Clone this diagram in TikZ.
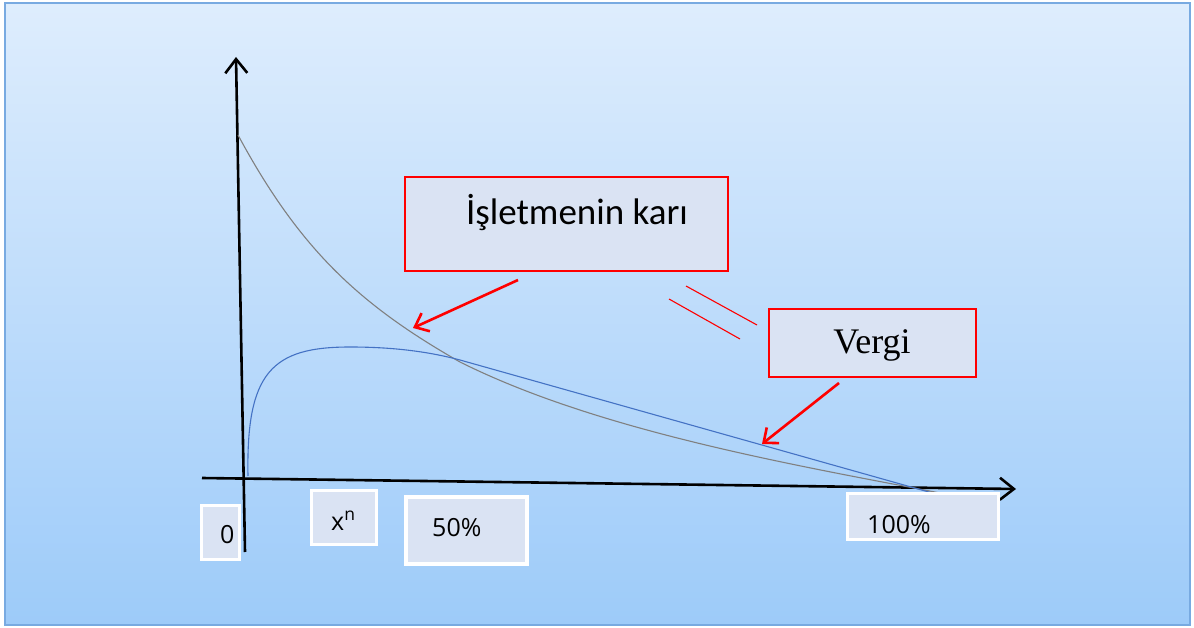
\documentclass[tikz,border=0pt]{standalone}
\usepackage{fontspec}
\setmainfont{Open Sans}
\newfontfamily\calfont{Carlito}
\newfontfamily\serfont{Liberation Serif}
\usetikzlibrary{arrows.meta}
\definecolor{bgtop}{RGB}{222,237,253}
\definecolor{bgbot}{RGB}{157,203,249}
\definecolor{frameline}{RGB}{120,170,225}
\definecolor{boxfill}{RGB}{218,227,243}
\definecolor{graycurve}{RGB}{128,128,128}
\definecolor{bluecurve}{RGB}{68,114,196}
\tikzset{
  axisline/.style={line width=2.6pt, -{Straight Barb[length=14pt,width=22pt,line width=2.6pt]}},
  redbox/.style={draw=red, line width=2.2pt, fill=boxfill, inner sep=0pt},
  lblbox/.style={draw=white, line width=3.5pt, fill=boxfill, inner sep=0pt},
  redarrow/.style={draw=red, line width=2.6pt, -{Straight Barb[length=12pt,width=20pt,line width=2.6pt]}},
  redline/.style={draw=red, line width=1.1pt},
  lbltext/.style={anchor=base west, inner sep=0pt, font=\fontsize{25}{30}\selectfont},
}
\begin{document}
\begin{tikzpicture}[x=1pt,y=-1pt]
\useasboundingbox (0,0) rectangle (1194,628);
\shade[top color=bgtop, bottom color=bgbot] (5,3) rectangle (1190,625);
\draw[frameline, line width=1.2pt] (5,3) rectangle (1190,625);

% axes
\coordinate (ybot) at (245,552);
\coordinate (ytop) at (236,57);
\coordinate (xleft) at (202,478);
\coordinate (xright) at (1016,489);
\draw[axisline] (ybot) -- (ytop);
\draw[axisline] (xleft) -- (xright);

% curves
\coordinate (g0) at (238,135);
\coordinate (g1) at (460,362);
\coordinate (g2) at (940,493);
\draw[graycurve, line width=1.1pt] (g0) .. controls (300,250) and (360,305) .. (g1)
   .. controls (600,432) and (800,466) .. (g2);
\coordinate (b0) at (248,476);
\coordinate (b1) at (350,347);
\coordinate (b2) at (460,360);
\coordinate (b3) at (943,496);
\draw[bluecurve, line width=1.1pt] (b0) .. controls (246,372) and (272,347) .. (b1)
   .. controls (395,347) and (430,352) .. (b2) -- (b3);

% label boxes
\node[redbox, minimum width=323, minimum height=94] (kar) at (566.5,224) {};
\node[anchor=base, inner sep=0pt, font=\calfont\fontsize{37}{44}\selectfont] (kart) at (577,225) {İşletmenin karı};
\node[redbox, minimum width=207, minimum height=68] (vergi) at (872.5,343) {};
\node[anchor=base, inner sep=0pt, font=\serfont\fontsize{36}{43}\selectfont] (vergit) at (872,353) {Vergi};

% red arrows and lines
\coordinate (ka) at (518,280);
\coordinate (kb) at (413,328);
\draw[redarrow] (ka) -- (kb);
\coordinate (va) at (839,383);
\coordinate (vb) at (762,444);
\draw[redarrow] (va) -- (vb);
\coordinate (r1a) at (686,286);
\coordinate (r1b) at (757,325);
\coordinate (r2a) at (669,299);
\coordinate (r2b) at (740,339);
\draw[redline] (r1a) -- (r1b);
\draw[redline] (r2a) -- (r2b);

% axis labels
\node[lblbox, minimum width=38, minimum height=54] (zero) at (220.5,532.5) {};
\node[lbltext] (zerot) at (220,543) {0};
\node[lblbox, minimum width=65, minimum height=54] (xn) at (344,517.5) {};
\node[lbltext] (xnt) at (331,530) {x\textsuperscript{n}};
\node[lblbox, minimum width=121, minimum height=67] (half) at (466.5,530.5) {};
\node[lbltext] (halft) at (432,536) {50\%};
\node[lblbox, minimum width=151, minimum height=46] (full) at (923,516.5) {};
\node[lbltext] (fullt) at (867,533) {100\%};
\end{tikzpicture}
\end{document}
